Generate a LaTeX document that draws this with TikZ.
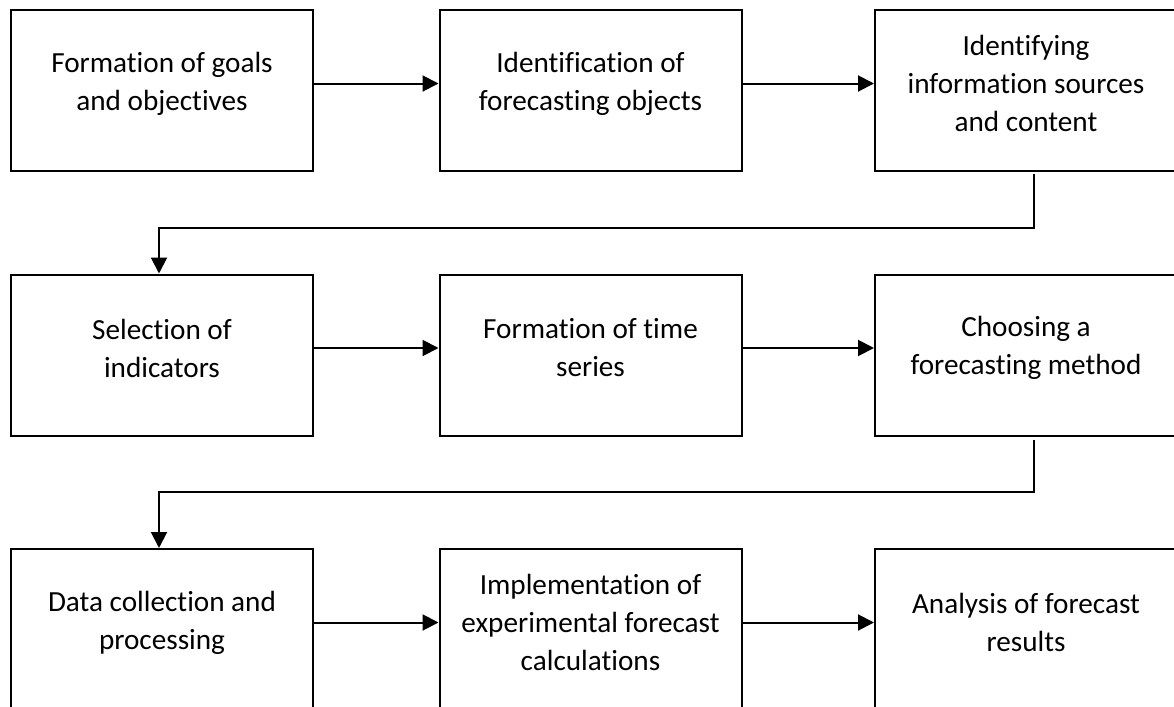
\documentclass[tikz,border=0pt]{standalone}
\usepackage{fontspec}
\setmainfont{Carlito}[Ligatures=NoCommon]
\usetikzlibrary{arrows.meta}

\tikzset{
  box/.style={draw, line width=1pt, minimum width=151pt, minimum height=80.5pt, inner sep=0pt},
  txt/.style={align=center, inner sep=0pt, font=\fontsize{14.6}{19}\selectfont},
  link/.style={line width=1pt, -{Triangle[length=8pt,width=8pt]}},
}

\begin{document}
\begin{tikzpicture}[x=0.5pt,y=-0.5pt]
\useasboundingbox (0,0) rectangle (1174,707);
\clip (0,0) rectangle (1174,707);

% first row
\node[box] (b1) at (162,90.5) {};
\node[box] (b2) at (590.5,90.5) {};
\node[box] (b3) at (1026,90.5) {};
\node[txt] (t1) at ([yshift=3.5pt]b1.center) {Formation of goals\\and objectives};
\node[txt] (t2) at ([yshift=3.5pt]b2.center) {Identification of\\forecasting objects};
\node[txt] (t3) at ([yshift=3.5pt]b3.center) {Identifying\\information sources\\and content};

% second row
\node[box] (b4) at (162,355) {};
\node[box] (b5) at (590.5,355) {};
\node[box] (b6) at (1026,355) {};
\node[txt] (t4) at ([yshift=3.5pt]b4.center) {Selection of\\indicators};
\node[txt] (t5) at ([yshift=3.5pt]b5.center) {Formation of time\\series};
\node[txt] (t6) at ([yshift=3.5pt]b6.center) {Choosing a\\forecasting method};

% third row
\node[box] (b7) at (162,629.5) {};
\node[box] (b8) at (590.5,629.5) {};
\node[box] (b9) at (1026,629.5) {};
\node[txt] (t7) at ([yshift=3.5pt]b7.center) {Data collection and\\processing};
\node[txt] (t8) at ([yshift=3.5pt]b8.center) {Implementation of\\experimental forecast\\calculations};
\node[txt] (t9) at ([yshift=3.5pt]b9.center) {Analysis of forecast\\results};

\draw[link] (t1 -| b1.east) -- (t2 -| b2.west);
\draw[link] (t2 -| b2.east) -- (t3 -| b3.west);
\draw[link] (t4 -| b4.east) -- (t5 -| b5.west);
\draw[link] (t5 -| b5.east) -- (t6 -| b6.west);
\draw[link] (t7 -| b7.east) -- (t8 -| b8.west);
\draw[link] (t8 -| b8.east) -- (t9 -| b9.west);

% row changes
\draw[link] ([xshift=4pt,yshift=-1pt]b3.south) -- ++(0,-27pt) -| ([xshift=-1.5pt]b4.north);
\draw[link] ([xshift=4pt,yshift=-1.5pt]b6.south) -- ++(0,-26pt) -| ([xshift=-1.5pt]b7.north);
\end{tikzpicture}
\end{document}
